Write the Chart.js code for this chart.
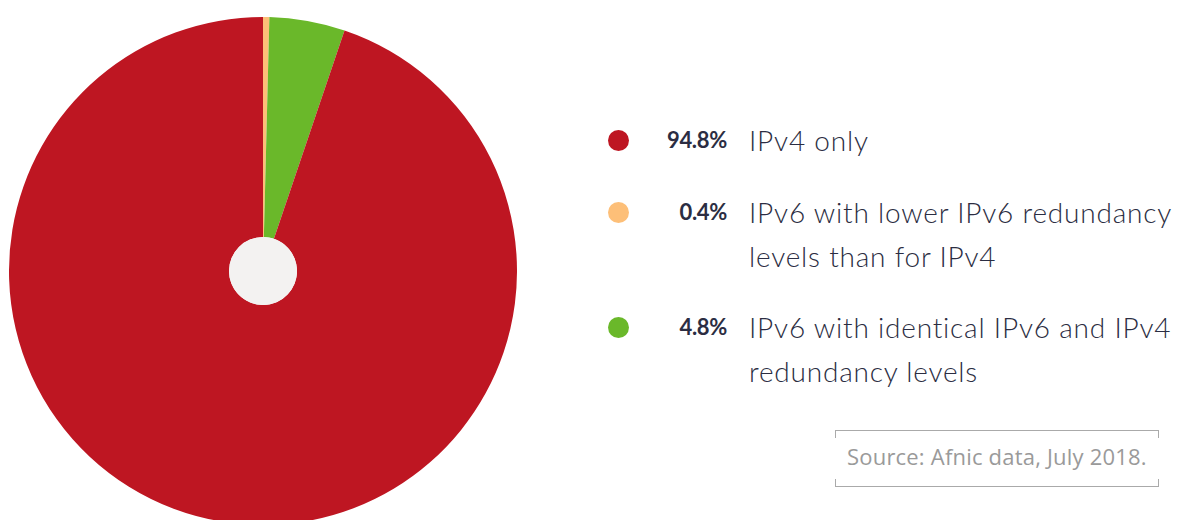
<!DOCTYPE html>
<html>
<head>
<meta charset="utf-8">
<script src="https://cdn.jsdelivr.net/npm/chart.js@4/dist/chart.umd.min.js"></script>
<style>
  html, body { margin: 0; padding: 0; background: #fff; width: 1181px; height: 520px; overflow: hidden; position: relative; }
  #wrap { position: absolute; left: 9px; top: 17px; width: 508px; height: 508px; }
  #legende { position: absolute; left: 600px; top: 0; width: 581px; }
  .item { position: absolute; left: 0; width: 581px; }
  .dot { position: absolute; left: 8px; width: 21px; height: 21px; border-radius: 50%; }
  .pct { position: absolute; left: 20px; width: 107px; text-align: right; font-family: Lato, sans-serif; font-weight: 700; font-size: 22px; letter-spacing: -0.3px; color: #2b2d42; }
  .lbl { position: absolute; left: 149px; width: 460px; white-space: nowrap; font-family: Lato, sans-serif; font-weight: 300; font-size: 28px; letter-spacing: 0.8px; line-height: 44px; color: #2b2d42; }
  #fonte { position: absolute; left: 835px; top: 430px; width: 324px; height: 57px; }
  #fonte .t { position: absolute; left: 0; top: 0; width: 324px; height: 1px; background: #aaa; }
  #fonte .b { position: absolute; left: 0; bottom: 0; width: 324px; height: 1px; background: #aaa; }
  #fonte .tl, #fonte .tr, #fonte .bl, #fonte .br { position: absolute; width: 1px; height: 8px; background: #aaa; }
  #fonte .tl { left: 0; top: 0; } #fonte .tr { right: 0; top: 0; }
  #fonte .bl { left: 0; bottom: 0; } #fonte .br { right: 0; bottom: 0; }
  #fonte span { position: absolute; left: 12px; top: 11px; font-family: "Open Sans", sans-serif; font-size: 22px; letter-spacing: 0.2px; color: #9a9a9a; white-space: nowrap; }
</style>
</head>
<body>
<div id="wrap"><canvas id="grafico"></canvas></div>
<div id="legende"></div>
<div id="fonte"><div class="t"></div><div class="b"></div><div class="tl"></div><div class="tr"></div><div class="bl"></div><div class="br"></div><span>Source: Afnic data, July 2018.</span></div>
<script>
// pie order clockwise from 12 o'clock
const categorias = ['IPv6 with lower IPv6 redundancy levels than for IPv4', 'IPv6 with identical IPv6 and IPv4 redundancy levels', 'IPv4 only'];
const valores = [0.4, 4.8, 94.8];
const cores = ['#fdbf78', '#6ab82a', '#be1622'];

// legend order as in the picture
const ordemLegenda = [2, 0, 1];
const linhasLegenda = [['IPv4 only'], ['IPv6 with lower IPv6 redundancy', 'levels than for IPv4'], ['IPv6 with identical IPv6 and IPv4', 'redundancy levels']];
const topos = [118, 190, 305];

const legende = document.getElementById('legende');
ordemLegenda.forEach(function (i, k) {
    const item = document.createElement('div');
    item.className = 'item';
    item.style.top = topos[k] + 'px';
    item.innerHTML = '<div class="dot" style="top:12px;background:' + cores[i] + '"></div>' +
        '<div class="pct" style="top:8px">' + valores[i].toFixed(1) + '%</div>' +
        '<div class="lbl" style="top:0">' + linhasLegenda[k].join('<br>') + '</div>';
    legende.appendChild(item);
});

const furo = {
    id: 'furo',
    afterDatasetsDraw(chart) {
        const meta = chart.getDatasetMeta(0);
        const arco = meta.data[0];
        const ctx = chart.ctx;
        ctx.save();
        ctx.beginPath();
        ctx.arc(arco.x, arco.y, arco.innerRadius, 0, Math.PI * 2);
        ctx.fillStyle = '#f3f2f1';
        ctx.fill();
        ctx.restore();
    }
};

new Chart(document.getElementById('grafico'), {
    type: 'doughnut',
    data: {
        labels: categorias,
        datasets: [{
            data: valores,
            backgroundColor: cores,
            borderWidth: 0
        }]
    },
    options: {
        responsive: true,
        maintainAspectRatio: false,
        animation: false,
        cutout: 34,
        layout: { padding: 0 },
        plugins: {
            legend: { display: false },
            tooltip: { enabled: false }
        }
    },
    plugins: [furo]
});
</script>
</body>
</html>
